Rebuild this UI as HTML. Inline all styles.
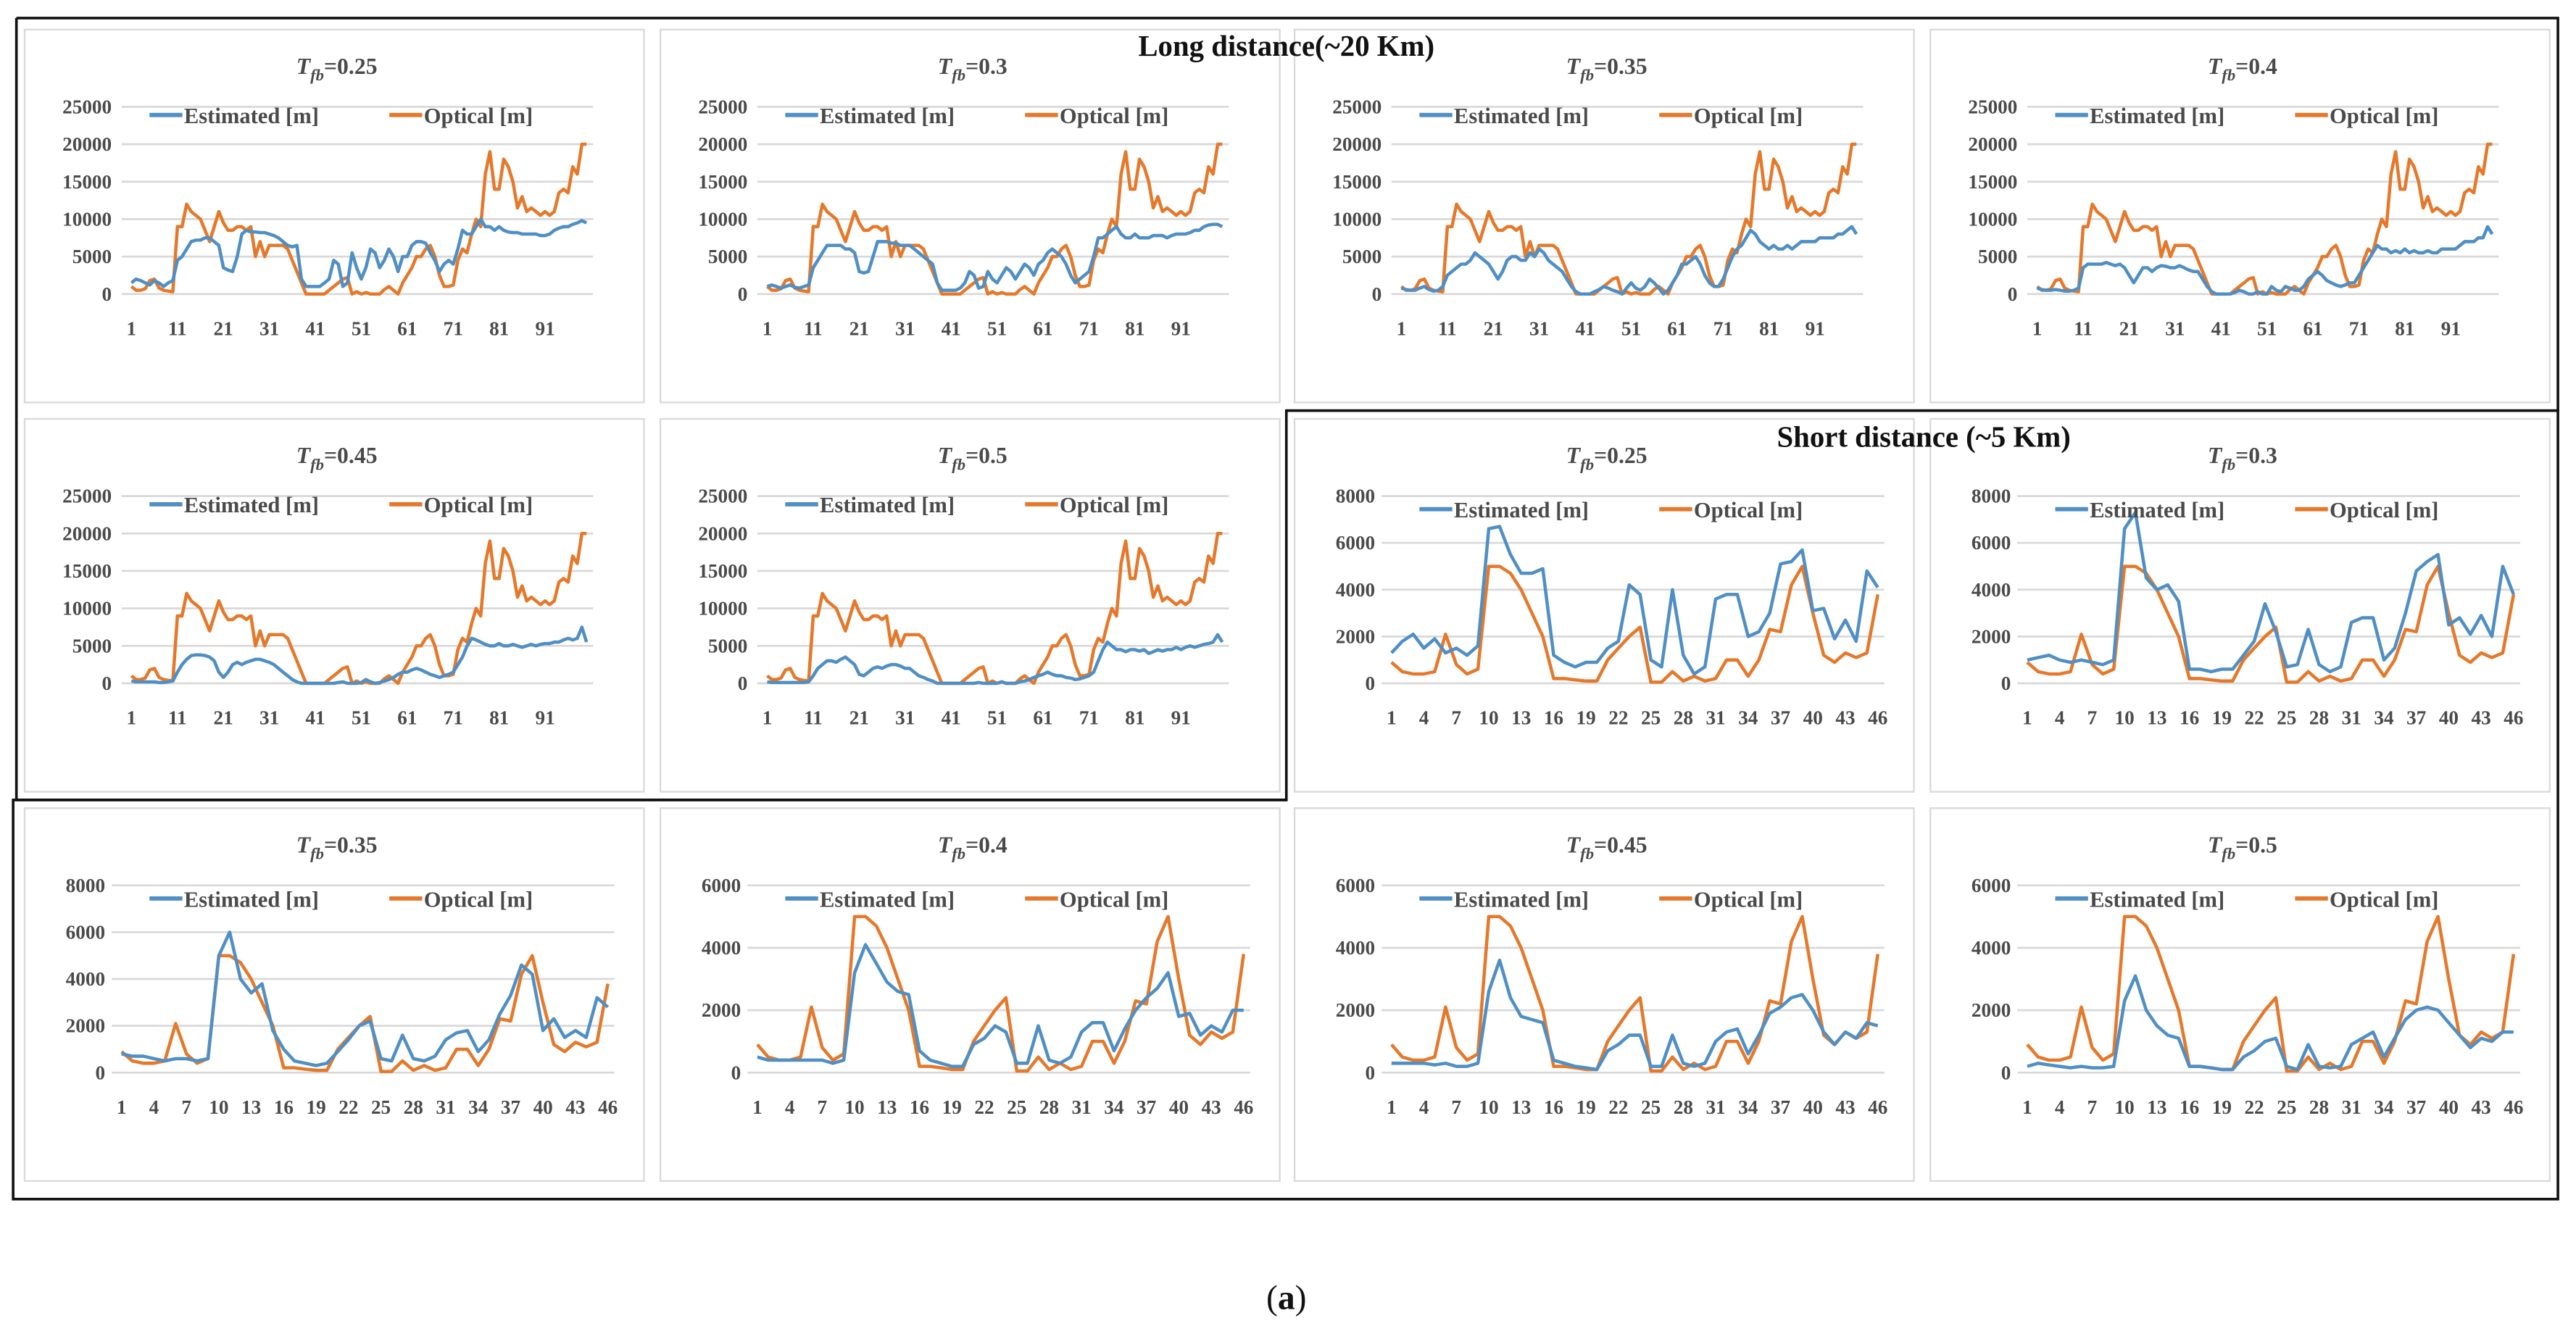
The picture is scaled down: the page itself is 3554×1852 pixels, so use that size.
<!DOCTYPE html>
<html><head><meta charset="utf-8"><style>
html,body{margin:0;padding:0;background:#fff;}
svg{display:block;font-family:"Liberation Serif",serif;}
</style></head><body>
<svg id="fig" width="3554" height="1852" viewBox="0 0 1568 817" preserveAspectRatio="none" xmlns="http://www.w3.org/2000/svg">
<rect x="0" y="0" width="1568" height="817" fill="#fff"/>
<g id="panels"></g>
<g fill="none" stroke="#111" stroke-width="1.6">
<polyline points="10,11 1557,11 1557,250 783,250 783,487 10,487 10,11"/>
<polyline points="783,250 1557,250 1557,730 8,730 8,487 783,487"/>
</g>
<text x="783" y="34" text-anchor="middle" font-size="18" font-weight="bold" fill="#111">Long distance(~20 Km)</text>
<text x="1171" y="272" text-anchor="middle" font-size="18" font-weight="bold" fill="#111">Short distance (~5 Km)</text>
<text x="783" y="797" text-anchor="middle" font-size="21" fill="#111">(<tspan font-weight="bold">a</tspan>)</text>
</svg>
<script>
const longOptical=[1000,500,500,700,1800,2000,800,500,400,300, 9000,9000,12000,11000,10500,10000,8500,7000,9000,11000, 9500,8500,8500,9000,9000,8500,9000,5000,7000,5000, 6500,6500,6500,6500,6000,4500,3000,1500,0,0, 0,0,0,500,1000,1500,2000,2200,0,300, 0,200,0,0,0,600,1000,500,0,1500, 2500,3500,5000,5000,6000,6500,5000,2500,1000,1000, 1200,4500,6000,5500,8000,10000,9000,16000,19000,14000, 14000,18000,17000,15000,11500,13000,11000,11500,11000,10500, 11000,10500,11000,13500,14000,13500,17000,16000,20000,20000];
const longEst025=[1500,2000,1800,1500,1200,1800,1500,1000,1500,1800, 4500,5000,6000,7000,7200,7200,7500,7500,7000,6500, 3500,3200,3000,5000,8000,8500,8300,8300,8200,8200, 8000,7800,7500,7000,6500,6300,6500,2000,1000,1000, 1000,1000,1500,2000,4500,4000,1000,1500,5500,3500, 2000,3500,6000,5500,3500,4500,6000,5000,3000,5000, 5000,6500,7000,7000,6800,5500,4500,3000,4000,4500, 4000,6000,8500,8000,8000,9000,10000,9000,9000,8500, 9000,8500,8300,8200,8200,8000,8000,8000,8000,7800, 7800,8000,8500,8800,9000,9000,9300,9500,9800,9500];
const longEst030=[1000,1200,1000,800,1000,1200,900,800,1000,1200, 3500,4500,5500,6500,6500,6500,6500,6000,6000,5500, 3000,2800,3000,5000,7000,7000,7000,6800,6800,6500, 6500,6500,6000,5500,5000,4500,4000,1500,500,500, 500,500,800,1500,3000,2500,800,1000,3000,2000, 1500,2500,3500,3000,2000,3000,4000,3500,2500,4000, 4500,5500,6000,5500,5000,4000,2500,1500,2000,2500, 3000,5000,7500,7500,8000,8500,9000,8000,7500,7500, 8000,7500,7500,7500,7800,7800,7800,7500,7800,8000, 8000,8000,8200,8500,8500,9000,9200,9300,9300,9000];
const longEst035=[800,600,500,500,800,1000,600,400,500,1000, 2500,3000,3500,4000,4000,4500,5500,5000,4500,4000, 3000,2000,3000,4500,5000,5000,4500,4500,5500,5000, 6000,5500,4500,4000,3500,3000,2000,1000,300,0, 0,0,300,600,1000,800,500,300,0,800, 1500,800,500,1000,2000,1500,800,0,500,1500, 2500,4000,4000,4500,5000,4000,2500,1500,1000,1000, 2000,3500,5000,6000,6500,7500,8500,8000,7000,6500, 6000,6500,6000,6000,6500,6000,6500,7000,7000,7000, 7000,7500,7500,7500,7500,8000,8000,8500,9000,8000];
const longEst040=[800,600,500,500,600,500,400,400,500,800, 3500,4000,4000,4000,4000,4200,4000,3800,4000,3500, 2500,1500,2500,3500,3500,3000,3500,3800,3700,3500, 3500,3800,3500,3200,3000,3000,2000,1000,300,0, 0,0,0,200,500,300,0,0,300,0, 0,1000,500,300,1000,800,500,500,1000,2000, 2500,3000,2500,1800,1500,1200,1000,1200,1500,1500, 2500,3500,4500,5500,6500,6000,6000,5500,5800,5500, 6000,5500,5800,5500,5500,5800,5500,5500,6000,6000, 6000,6000,6500,7000,7000,7000,7500,7500,9000,8000];
const longEst045=[300,200,200,200,200,200,100,100,200,300, 1500,2500,3200,3700,3800,3800,3700,3500,3000,1500, 800,1500,2500,2800,2500,2800,3000,3200,3200,3000, 2800,2500,2000,1500,1000,500,200,0,0,0, 0,0,0,0,0,100,200,0,0,0, 100,500,200,0,100,300,500,800,1200,1500, 1500,1800,2000,1800,1500,1200,1000,800,1000,1200, 1500,2500,3500,5000,6000,5800,5500,5200,5000,5000, 5300,5000,5000,5200,5000,4800,5000,5200,5000,5200, 5300,5300,5500,5500,5800,6000,5800,6000,7500,5500];
const longEst050=[200,100,100,100,100,100,100,100,100,200, 1000,2000,2500,3000,3000,2800,3200,3500,3000,2500, 1200,1000,1500,2000,2200,2000,2300,2500,2500,2300, 2000,2000,1500,1000,800,500,300,0,0,0, 0,0,0,0,0,0,100,0,0,0, 0,200,0,0,0,200,300,500,800,1000, 1200,1500,1200,1000,1000,800,700,500,600,800, 1000,1500,3000,4500,5500,5000,4500,4500,4200,4500, 4500,4300,4500,4000,4200,4500,4300,4500,4500,4800, 4500,4800,5000,4800,5000,5200,5300,5500,6500,5500];
const shortOptical=[900,500,400,400,500,2100,800,400,600,5000,5000,4700,4000,3000,2000,200,200,150,100,100,1000,1500,2000,2400,50,50,500,100,300,100,200,1000,1000,300,1000,2300,2200,4200,5000,3000,1200,900,1300,1100,1300,3800];
const shortEst025=[1300,1800,2100,1500,1900,1300,1500,1200,1600,6600,6700,5500,4700,4700,4900,1200,900,700,900,900,1500,1800,4200,3800,1000,700,4000,1200,400,700,3600,3800,3800,2000,2200,3000,5100,5200,5700,3100,3200,1900,2700,1800,4800,4100];
const shortEst030=[1000,1100,1200,1000,900,1000,900,800,1000,6600,7300,4500,4000,4200,3500,600,600,500,600,600,1200,1800,3400,2200,700,800,2300,800,500,700,2600,2800,2800,1000,1500,3000,4800,5200,5500,2500,2800,2100,2900,2000,5000,3800];
const shortEst035=[800,700,700,600,500,600,600,500,600,5000,6000,4000,3400,3800,1800,1000,500,400,300,400,900,1400,2000,2200,600,500,1600,600,500,700,1400,1700,1800,900,1400,2500,3300,4600,4200,1800,2300,1500,1800,1500,3200,2800];
const shortEst040=[500,400,400,400,400,400,400,300,400,3200,4100,3500,2900,2600,2500,700,400,300,200,200,900,1100,1500,1300,300,300,1500,400,300,500,1300,1600,1600,700,1400,2000,2400,2700,3200,1800,1900,1200,1500,1300,2000,2000];
const shortEst045=[300,300,300,300,250,300,200,200,300,2600,3600,2400,1800,1700,1600,400,300,200,150,100,700,900,1200,1200,200,200,1200,300,200,300,1000,1300,1400,600,1200,1900,2100,2400,2500,2000,1300,900,1300,1100,1600,1500];
const shortEst050=[200,300,250,200,150,200,150,150,200,2300,3100,2000,1500,1200,1100,200,200,150,100,100,500,700,1000,1100,200,100,900,200,150,200,900,1100,1300,500,1100,1700,2000,2100,2000,1600,1200,800,1100,1000,1300,1300];
const longTicks=[0,5000,10000,15000,20000,25000];
const short8Ticks=[0,2000,4000,6000,8000];
const short6Ticks=[0,2000,4000,6000];
const longXLabels=[1,11,21,31,41,51,61,71,81,91];
const shortXLabels=[1,4,7,10,13,16,19,22,25,28,31,34,37,40,43,46];
const panelTitles=["0.25","0.3","0.35","0.4","0.45","0.5","0.25","0.3","0.35","0.4","0.45","0.5"];

const NS="http://www.w3.org/2000/svg";
const root=document.getElementById('panels');
function mk(tag,attrs,parent){const e=document.createElementNS(NS,tag);for(const k in attrs)e.setAttribute(k,attrs[k]);parent.appendChild(e);return e;}
const colL=[15,402,788,1175], rowT=[18,255,492];
const BLUE="#4f8fc4", ORANGE="#e5792b", TXT="#4a4a4a";

const panels=[
 {c:0,r:0,kind:'long',est:longEst025,opt:longOptical,ticks:longTicks},
 {c:1,r:0,kind:'long',est:longEst030,opt:longOptical,ticks:longTicks},
 {c:2,r:0,kind:'long',est:longEst035,opt:longOptical,ticks:longTicks},
 {c:3,r:0,kind:'long',est:longEst040,opt:longOptical,ticks:longTicks},
 {c:0,r:1,kind:'long',est:longEst045,opt:longOptical,ticks:longTicks},
 {c:1,r:1,kind:'long',est:longEst050,opt:longOptical,ticks:longTicks},
 {c:2,r:1,kind:'short',est:shortEst025,opt:shortOptical,ticks:short8Ticks},
 {c:3,r:1,kind:'short',est:shortEst030,opt:shortOptical,ticks:short8Ticks},
 {c:0,r:2,kind:'short',est:shortEst035,opt:shortOptical,ticks:short8Ticks},
 {c:1,r:2,kind:'short',est:shortEst040,opt:shortOptical,ticks:short6Ticks},
 {c:2,r:2,kind:'short',est:shortEst045,opt:shortOptical,ticks:short6Ticks},
 {c:3,r:2,kind:'short',est:shortEst050,opt:shortOptical,ticks:short6Ticks}
];

panels.forEach((p,pi)=>{
 const L=colL[p.c], T=rowT[p.r];
 const g=mk('g',{},root);
 
 
 const frame=mk('rect',{x:L,y:T,width:377,height:227,fill:'#fff',stroke:'#d9d9d9','stroke-width':1},g);
 
 
 const isLong=p.kind==='long';
 const x0=L+(isLong?65:59), x1=L+(isLong?342:355);
 const yTop=T+47, yBot=T+161;
 const n=p.opt.length;
 const maxV=p.ticks[p.ticks.length-1];
 const xs=i=>x0+(x1-x0)*i/(n-1);
 const ys=v=>yBot-(yBot-yTop)*v/maxV;
 const t=mk('text',{x:L+190,y:T+27,'text-anchor':'middle','font-size':14,'font-weight':'bold',fill:TXT},g);
 
 
 const ti=mk('tspan',{'font-style':'italic'},t);ti.textContent='T';
 const ts=mk('tspan',{'font-style':'italic','font-size':10,dy:4},t);ts.textContent='fb';
 const tv=mk('tspan',{dy:-4},t);tv.textContent='='+panelTitles[pi];
 p.ticks.forEach(v=>{
  const gl=mk('line',{x1:x0-6,x2:x1+4,y1:ys(v),y2:ys(v),stroke:'#d9d9d9','stroke-width':1.2},g);
  
  
  const tl=mk('text',{x:L+(isLong?53:49),y:ys(v)+4,'text-anchor':'end','font-size':12,'font-weight':'bold',fill:TXT},g);
  
  
  tl.textContent=v;
 });
 (isLong?longXLabels:shortXLabels).forEach(lb=>{
  const xl=mk('text',{x:xs(lb-1),y:T+186,'text-anchor':'middle','font-size':12,'font-weight':'bold',fill:TXT},g);
  
  
  xl.textContent=lb;
 });
 const ptsE=p.est.map((v,i)=>xs(i).toFixed(1)+','+ys(v).toFixed(1)).join(' ');
 const ptsO=p.opt.map((v,i)=>xs(i).toFixed(1)+','+ys(v).toFixed(1)).join(' ');
 const lo=mk('polyline',{points:ptsO,fill:'none',stroke:ORANGE,'stroke-width':2,'stroke-linejoin':'round'},g);
 
 
 const le=mk('polyline',{points:ptsE,fill:'none',stroke:BLUE,'stroke-width':2,'stroke-linejoin':'round'},g);
 
 
 const ly=T+(isLong?52:55);
 const lg=mk('g',{},g);
 
 
 const bgE=mk('line',{x1:L+76,x2:L+96,y1:ly,y2:ly,stroke:BLUE,'stroke-width':2.6},lg);
 
 
 const te=mk('text',{x:L+97,y:ly+5,'font-size':13.5,'font-weight':'bold',fill:TXT},lg);
 
 
 te.textContent='Estimated [m]';
 const bgO=mk('line',{x1:L+222,x2:L+242,y1:ly,y2:ly,stroke:ORANGE,'stroke-width':2.6},lg);
 
 
 const to=mk('text',{x:L+243,y:ly+5,'font-size':13.5,'font-weight':'bold',fill:TXT},lg);
 
 
 to.textContent='Optical [m]';
});
</script>
</body></html>
